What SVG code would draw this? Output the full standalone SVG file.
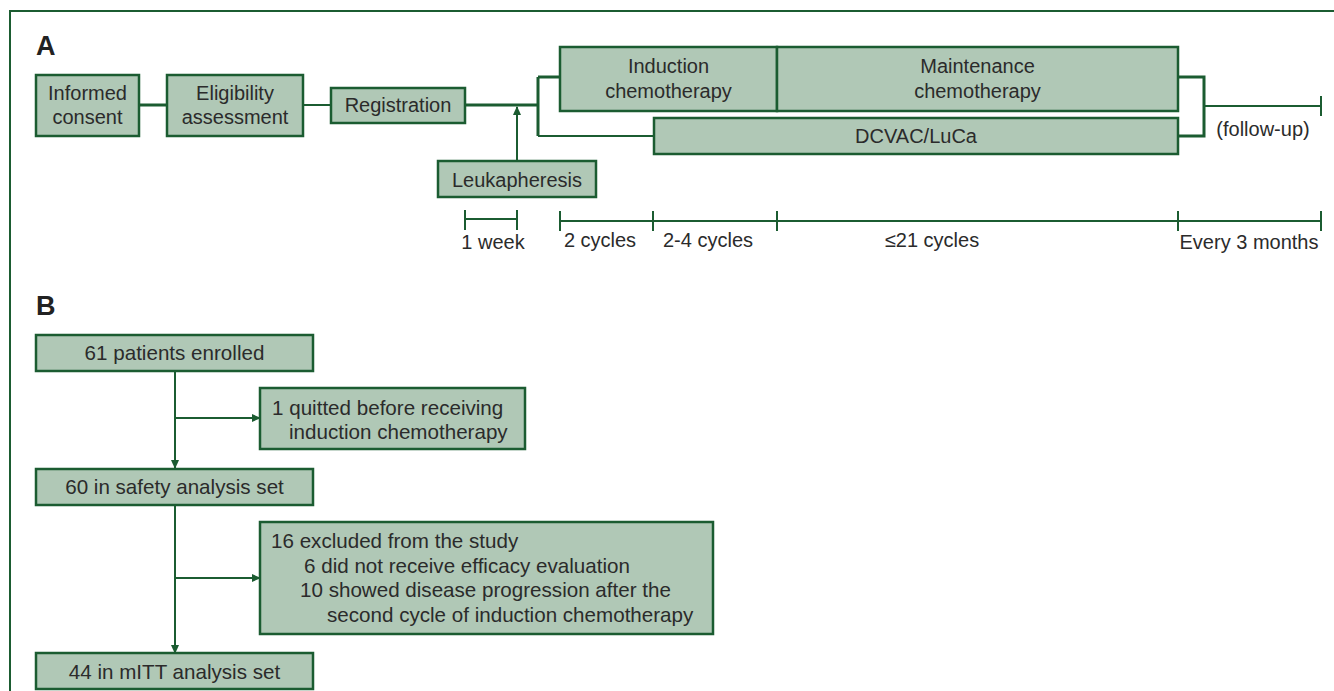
<svg xmlns="http://www.w3.org/2000/svg" width="1334" height="691" viewBox="0 0 1334 691">
<style>
.box{fill:#b0c8b6;stroke:#1b5c31;stroke-width:2.5}
.t{font-family:"Liberation Sans",Arial,sans-serif;font-size:20px;fill:#2b2b2b}
.b{font-size:20.6px}
.m{text-anchor:middle}
.lbl{font-family:"Liberation Sans",Arial,sans-serif;font-size:27px;font-weight:bold;fill:#222}
.ln{fill:none;stroke:#1b5c31;stroke-width:2}
.thk{fill:none;stroke:#1b5c31;stroke-width:3}
</style>
<defs>
<marker id="ah" markerWidth="9" markerHeight="9" refX="8" refY="4.5" orient="auto" markerUnits="userSpaceOnUse">
<path d="M0,0.5 L9,4.5 L0,8.5 Z" fill="#1b5c31"/>
</marker>
</defs>
<rect x="10" y="11" width="1340" height="700" fill="#fff" stroke="#1b5c31" stroke-width="2"/>
<text class="lbl" x="36" y="55">A</text>
<text class="lbl" x="36" y="315">B</text>

<g id="connectors">
<path class="thk" d="M139,105 H167"/>
<path class="ln" d="M303,105 H331" stroke-width="1.5"/>
<path class="thk" d="M465,105 H538 M538,77 V136 M538,77 H560"/>
<path class="ln" d="M538,136 H654"/>
<path class="ln" d="M517,160 V107" marker-end="url(#ah)"/>
<path class="thk" d="M1178,77 H1204 V136 H1178"/>
<path class="ln" d="M1204,106 H1321 M1321,96 V116"/>
<path class="ln" d="M465,210 V230 M465,219 H517 M517,210 V230"/>
<path class="ln" d="M560,221 H1321 M560,211 V231 M653,211 V231 M777,211 V231 M1178,211 V231 M1321,211 V231"/>
<path class="ln" d="M175,371 V468" marker-end="url(#ah)"/>
<path class="ln" d="M175,418 H260" marker-end="url(#ah)"/>
<path class="ln" d="M175,505 V653" marker-end="url(#ah)"/>
<path class="ln" d="M175,578 H260" marker-end="url(#ah)"/>
</g>

<g id="informed">
<rect class="box" x="36" y="75" width="103" height="61"/>
<text class="t m" x="87.5" y="100">Informed</text>
<text class="t m" x="87.5" y="124">consent</text>
</g>
<g id="eligibility">
<rect class="box" x="167" y="75" width="136" height="61"/>
<text class="t m" x="235" y="100">Eligibility</text>
<text class="t m" x="235" y="124">assessment</text>
</g>
<g id="registration">
<rect class="box" x="331" y="88" width="134" height="35"/>
<text class="t m" x="398" y="112">Registration</text>
</g>
<g id="leukapheresis">
<rect class="box" x="438" y="161" width="158" height="36"/>
<text class="t m" x="517" y="187">Leukapheresis</text>
</g>
<g id="induction">
<rect class="box" x="560" y="47" width="217" height="64"/>
<text class="t m" x="668.5" y="73">Induction</text>
<text class="t m" x="668.5" y="98">chemotherapy</text>
</g>
<g id="maintenance">
<rect class="box" x="777" y="47" width="401" height="64"/>
<text class="t m" x="977.5" y="73">Maintenance</text>
<text class="t m" x="977.5" y="98">chemotherapy</text>
</g>
<g id="dcvac">
<rect class="box" x="654" y="118" width="524" height="36"/>
<text class="t m" x="916" y="143">DCVAC/LuCa</text>
</g>
<g id="timeline-labels">
<text class="t m" x="1263" y="136">(follow-up)</text>
<text class="t m" x="493" y="249">1 week</text>
<text class="t m" x="600" y="247">2 cycles</text>
<text class="t m" x="708" y="247">2-4 cycles</text>
<text class="t m" x="932" y="247">≤21 cycles</text>
<text class="t m" x="1249" y="249">Every 3 months</text>
</g>

<g id="enrolled">
<rect class="box" x="36" y="335" width="277" height="36"/>
<text class="t b m" x="174.5" y="360">61 patients enrolled</text>
</g>
<g id="quitted">
<rect class="box" x="260" y="388" width="265" height="61"/>
<text class="t b" x="272" y="415">1 quitted before receiving</text>
<text class="t b" x="289" y="439">induction chemotherapy</text>
</g>
<g id="safety">
<rect class="box" x="36" y="469" width="277" height="36"/>
<text class="t b m" x="174.5" y="494">60 in safety analysis set</text>
</g>
<g id="excluded">
<rect class="box" x="260" y="522" width="453" height="112"/>
<text class="t b" x="271" y="548">16 excluded from the study</text>
<text class="t b" x="304" y="573">6 did not receive efficacy evaluation</text>
<text class="t b" x="300" y="597">10 showed disease progression after the</text>
<text class="t b" x="327" y="622">second cycle of induction chemotherapy</text>
</g>
<g id="mitt">
<rect class="box" x="36" y="653" width="277" height="36"/>
<text class="t b m" x="174.5" y="679">44 in mITT analysis set</text>
</g>
</svg>
